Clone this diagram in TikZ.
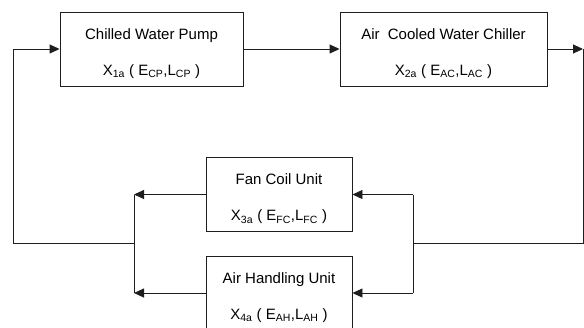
\documentclass[tikz,border=0pt]{standalone}
\usepackage{fontspec}
\setmainfont{Liberation Sans}
\usetikzlibrary{positioning, arrows.meta, calc}
\definecolor{edgeBase}{RGB}{ 30, 30, 30}
\tikzset{
    unitnode/.style={
        draw=edgeBase, fill=white, line width=0.9pt,
        inner sep=0pt, align=center, font=\fontsize{15}{17}\selectfont,
        minimum height=74pt
    },
    flow/.style={-{Triangle[length=10pt, width=9pt]}, line width=0.9pt, draw=edgeBase},
    lin/.style ={line width=0.9pt, draw=edgeBase}
}

\begin{document}
\begin{tikzpicture}[x=1pt, y=-1pt]
      \useasboundingbox (0,0) rectangle (584,327);
      \node[unitnode, minimum width=183pt] (CP) at (151.5,49) {\rule{0pt}{20pt}Chilled Water Pump\\[19pt] X\textsubscript{1a} ( E\textsubscript{CP},L\textsubscript{CP} )};
      \node[unitnode, minimum width=207pt] (AC) at (443.5,49) {\rule{0pt}{20pt}Air\ \ Cooled Water Chiller\\[19pt] X\textsubscript{2a} ( E\textsubscript{AC},L\textsubscript{AC} )};
      \node[unitnode, minimum width=146pt] (FC) at (279,194.5) {\rule{0pt}{20pt}Fan Coil Unit\\[19pt] X\textsubscript{3a} ( E\textsubscript{FC},L\textsubscript{FC} )};
      \node[unitnode, minimum width=146pt] (AH) at (279,293) {\rule{0pt}{20pt}Air Handling Unit\\[19pt] X\textsubscript{4a} ( E\textsubscript{AH},L\textsubscript{AH} )};
      \coordinate (RC) at (583,49);
      \coordinate (RJ) at (413,243);
      \coordinate (LJ) at (134,243);
      \coordinate (LC) at (13,243);
      \draw[flow] (CP) -- (AC);
      \draw[flow] (AC) -- (RC);
      \draw[lin] (RC) -- (RC |- RJ) -- (RJ);
      \draw[lin] (RJ |- FC) -- (RJ |- AH);
      \draw[flow] (RJ |- FC) -- (FC); \draw[flow] (RJ |- AH) -- (AH);
      \draw[flow] (FC) -- (LJ |- FC); \draw[flow] (AH) -- (LJ |- AH);
      \draw[lin] (LJ |- FC) -- (LJ |- AH);
      \draw[lin] (LJ) -- (LC);
      \draw[flow] (LC) -- (LC |- CP) -- (CP);
    \end{tikzpicture}
\end{document}
